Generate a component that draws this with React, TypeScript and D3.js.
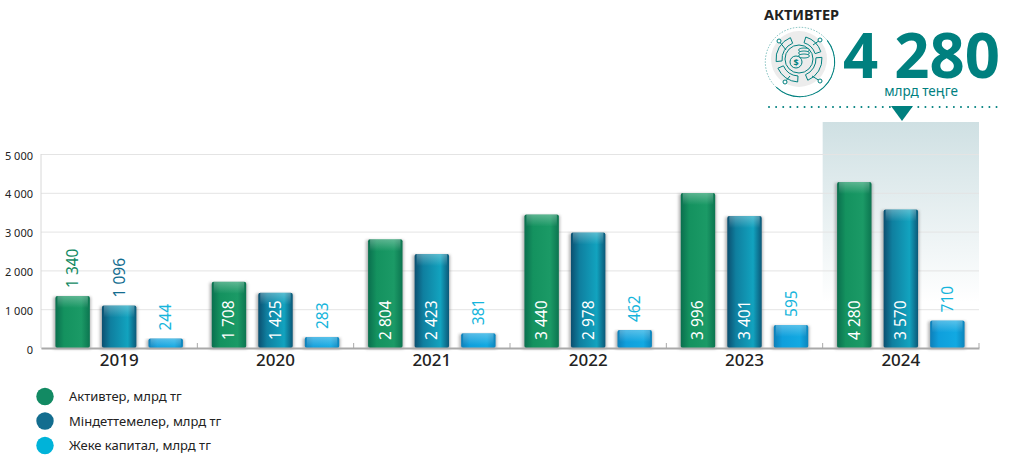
import { useEffect, useRef } from "react";
import * as d3 from "d3";

const years = ["2019", "2020", "2021", "2022", "2023", "2024"];
const seriesNames = ["Активтер, млрд тг", "Міндеттемелер, млрд тг", "Жеке капитал, млрд тг"];
const assets = [1340, 1708, 2804, 3440, 3996, 4280];
const liabilities = [1096, 1425, 2423, 2978, 3401, 3570];
const equity = [244, 283, 381, 462, 595, 710];
const yTicks = [0, 1000, 2000, 3000, 4000, 5000];
const legendColors = ["#128a63", "#136d8f", "#00b3d9"];
const labelColors = ["#128a63", "#136d8f", "#16b5dc"];
const barStops = [
  ["#0a6f4e", "#14925f", "#1b9a66", "#0c7550"],
  ["#0b4f70", "#0f7f9f", "#12a3bf", "#0b5878"],
  ["#0d7fb8", "#0f9fdc", "#12a9e2", "#0c84bc"],
];

const fmt = (n: number) => d3.format(",")(n).replace(/,/g, " ");
const FONT = "'Noto Sans', sans-serif";

export default function App() {
  const svgRef = useRef<SVGSVGElement>(null);

  useEffect(() => {
    if (!svgRef.current) return;
    const svg = d3.select(svgRef.current);
    svg.selectAll("*").remove();

    const x = d3.scaleBand<string>().domain(years).range([41, 979]);
    const inner = d3
      .scaleBand<number>()
      .domain([0, 1, 2])
      .range([0, x.bandwidth()])
      .paddingInner(0.26)
      .paddingOuter(0.31);
    const y = d3.scaleLinear().domain([0, 5000]).range([348, 154]);

    const defs = svg.append("defs");
    barStops.forEach((stops, i) => {
      const g = defs.append("linearGradient").attr("id", `bar-${i}`);
      [0, 0.25, 0.75, 1].forEach((o, j) =>
        g.append("stop").attr("offset", o).attr("stop-color", stops[j]),
      );
    });
    const shine = defs
      .append("linearGradient")
      .attr("id", "shine")
      .attr("x1", 0)
      .attr("y1", 0)
      .attr("x2", 0)
      .attr("y2", 1);
    shine.append("stop").attr("offset", 0).attr("stop-color", "#fff").attr("stop-opacity", 0.3);
    shine.append("stop").attr("offset", 1).attr("stop-color", "#fff").attr("stop-opacity", 0);
    const panel = defs
      .append("linearGradient")
      .attr("id", "panel")
      .attr("x1", 0)
      .attr("y1", 0)
      .attr("x2", 0)
      .attr("y2", 1);
    panel.append("stop").attr("offset", 0).attr("stop-color", "#cfe0e3");
    panel.append("stop").attr("offset", 1).attr("stop-color", "#fff");
    const blur = defs.append("filter").attr("id", "soft").attr("x", "-30%").attr("width", "160%");
    blur.append("feGaussianBlur").attr("stdDeviation", 1.5);

    // highlight behind the last year
    svg
      .append("rect")
      .attr("x", x("2024")!)
      .attr("y", 122)
      .attr("width", x.bandwidth())
      .attr("height", 180)
      .attr("fill", "url(#panel)");

    // grid
    svg
      .append("g")
      .attr("transform", "translate(41,0)")
      .call(d3.axisLeft(y).tickValues(yTicks).tickSize(-938).tickFormat(() => ""))
      .call((g) => g.select(".domain").remove())
      .call((g) => g.selectAll(".tick line").attr("stroke", "#e4e4e4"));

    // y labels
    svg
      .append("g")
      .selectAll("text")
      .data(yTicks)
      .join("text")
      .attr("x", 33)
      .attr("y", (d) => y(d) + 5.5)
      .attr("text-anchor", "end")
      .attr("font-family", FONT)
      .attr("font-size", 11)
      .attr("fill", "#222")
      .text(fmt);

    svg
      .append("line")
      .attr("x1", 41)
      .attr("x2", 41)
      .attr("y1", 154)
      .attr("y2", 348)
      .attr("stroke", "#d8d8d8");

    // bars
    const rows = [assets, liabilities, equity];
    rows.forEach((values, s) => {
      const g = svg.append("g");
      const bars = g.selectAll("g").data(values).join("g");
      const bx = (i: number) => x(years[i])! + inner(s)!;
      bars
        .append("rect")
        .attr("x", (_, i) => bx(i) - 2)
        .attr("y", (d) => y(d) + 1)
        .attr("width", inner.bandwidth() + 3)
        .attr("height", (d) => y(0) - y(d))
        .attr("fill", "#777")
        .attr("opacity", 0.55)
        .attr("filter", "url(#soft)");
      bars
        .append("rect")
        .attr("x", (_, i) => bx(i))
        .attr("y", (d) => y(d))
        .attr("width", inner.bandwidth())
        .attr("height", (d) => y(0) - y(d))
        .attr("rx", 2)
        .attr("fill", `url(#bar-${s})`);
      bars
        .append("rect")
        .attr("x", (_, i) => bx(i) + 2)
        .attr("y", (d) => y(d))
        .attr("width", inner.bandwidth() - 4)
        .attr("height", (d) => Math.min(12, y(0) - y(d)))
        .attr("fill", "url(#shine)");
      bars
        .append("text")
        .attr("transform", (d, i) => {
          const tx = bx(i) + inner.bandwidth() / 2 + 5.5;
          const ty = d < 1400 ? y(d) - 8 : y(0) - 8;
          return `translate(${tx},${ty}) rotate(-90)`;
        })
        .attr("font-family", FONT)
        .attr("font-size", 15.5)
        .attr("fill", (d) => (d < 1400 ? labelColors[s] : "#fff"))
        .text(fmt);
    });

    // baseline + year axis
    svg
      .append("g")
      .attr("transform", "translate(0,348)")
      .call(d3.axisBottom(x).tickSize(0))
      .call((g) => g.select(".domain").attr("stroke", "#a9a9a9").attr("stroke-width", 2))
      .call((g) =>
        g
          .selectAll(".tick text")
          .attr("font-family", FONT)
          .attr("font-size", 17)
          .attr("font-weight", 500)
          .attr("fill", "#222")
          .attr("dy", "0.68em")
          .attr("y", 6),
      );
    svg
      .append("g")
      .selectAll("line")
      .data(years)
      .join("line")
      .attr("x1", (d) => x(d)! + x.bandwidth())
      .attr("x2", (d) => x(d)! + x.bandwidth())
      .attr("y1", 343)
      .attr("y2", 348)
      .attr("stroke", "#a9a9a9");

    // legend
    const legend = svg
      .append("g")
      .selectAll("g")
      .data(seriesNames)
      .join("g")
      .attr("transform", (_, i) => `translate(45,${396.5 + i * 24.5})`);
    legend
      .append("circle")
      .attr("r", 8.7)
      .attr("fill", (_, i) => legendColors[i]);
    legend
      .append("text")
      .attr("x", 24)
      .attr("y", 4.5)
      .attr("font-family", FONT)
      .attr("font-size", 13)
      .attr("fill", "#222")
      .text((d) => d);

    // headline block
    const teal = "#00807f";
    svg
      .append("text")
      .attr("x", 764)
      .attr("y", 20)
      .attr("font-family", FONT)
      .attr("font-size", 14.5)
      .attr("font-weight", 700)
      .attr("fill", "#222")
      .text("АКТИВТЕР");
    svg
      .append("text")
      .attr("x", 843)
      .attr("y", 78)
      .attr("font-family", FONT)
      .attr("font-size", 62)
      .attr("font-weight", 700)
      .attr("fill", teal)
      .attr("textLength", 157)
      .attr("lengthAdjust", "spacingAndGlyphs")
      .text("4 280");
    svg
      .append("text")
      .attr("x", 921)
      .attr("y", 96)
      .attr("text-anchor", "middle")
      .attr("font-family", FONT)
      .attr("font-size", 13.5)
      .attr("fill", teal)
      .text("млрд теңге");
    svg
      .append("line")
      .attr("x1", 769)
      .attr("x2", 998)
      .attr("y1", 107)
      .attr("y2", 107)
      .attr("stroke", teal)
      .attr("stroke-width", 2)
      .attr("stroke-linecap", "round")
      .attr("stroke-dasharray", "0.01 7.1");
    svg.append("path").attr("d", "M891,106H913L902,121Z").attr("fill", teal);

    // icon
    const icon = svg.append("g").attr("transform", "translate(800,62)");
    icon.append("circle").attr("cx", -1).attr("cy", -3).attr("r", 28).attr("fill", "#ececec");
    const ringArc = d3.arc();
    icon
      .append("path")
      .attr(
        "d",
        ringArc({ innerRadius: 34.2, outerRadius: 35.2, startAngle: 0.9, endAngle: 3.9 }) as string,
      )
      .attr("fill", teal);
    icon
      .append("circle")
      .attr("r", 34.7)
      .attr("fill", "none")
      .attr("stroke", teal)
      .attr("stroke-width", 0.5)
      .attr("stroke-dasharray", "1.5 1.5");
    const segs: [number, number][] = [
      [0.3, 1.25],
      [1.5, 2.75],
      [3.2, 4.3],
      [4.6, 5.9],
    ];
    const segArc = d3.arc();
    segs.forEach(([a, b]) => {
      icon
        .append("path")
        .attr("d", segArc({ innerRadius: 17, outerRadius: 23, startAngle: a, endAngle: b }) as string)
        .attr("transform", "translate(-1,-3)")
        .attr("fill", "none")
        .attr("stroke", teal)
        .attr("stroke-width", 1);
    });
    icon
      .append("circle")
      .attr("cx", -1)
      .attr("cy", -3)
      .attr("r", 14)
      .attr("fill", "none")
      .attr("stroke", teal)
      .attr("stroke-width", 1);
    [-12, -9, -6].forEach((cy) => {
      icon
        .append("ellipse")
        .attr("cx", 4)
        .attr("cy", cy)
        .attr("rx", 5.5)
        .attr("ry", 2)
        .attr("fill", "#ececec")
        .attr("stroke", teal)
        .attr("stroke-width", 0.9);
    });
    icon
      .append("circle")
      .attr("cx", -4)
      .attr("cy", 0)
      .attr("r", 6)
      .attr("fill", "#ececec")
      .attr("stroke", teal)
      .attr("stroke-width", 1);
    icon
      .append("text")
      .attr("x", -4)
      .attr("y", 3.5)
      .attr("text-anchor", "middle")
      .attr("font-family", FONT)
      .attr("font-size", 9)
      .attr("font-weight", 700)
      .attr("fill", teal)
      .text("$");
    [
      [-21, -21, -14, -12],
      [20, -22, 13, -17],
      [20, 19, 12, 14],
      [-15, 20, -10, 14],
    ].forEach(([a, b, c, d]) => {
      icon
        .append("line")
        .attr("x1", a)
        .attr("y1", b)
        .attr("x2", c)
        .attr("y2", d)
        .attr("stroke", teal)
        .attr("stroke-width", 1);
      icon
        .append("circle")
        .attr("cx", a)
        .attr("cy", b)
        .attr("r", 2)
        .attr("fill", "#fff")
        .attr("stroke", teal)
        .attr("stroke-width", 1);
    });
  }, []);

  return (
    <svg
      ref={svgRef}
      width={1014}
      height={467}
      style={{ position: "absolute", left: 0, top: 0, background: "#fff" }}
    />
  );
}
